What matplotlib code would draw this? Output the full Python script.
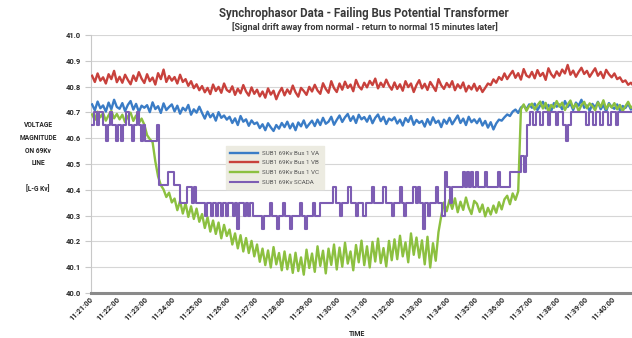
import numpy as np
import matplotlib
matplotlib.use("Agg")
import matplotlib.pyplot as plt

plt.rcParams['font.family'] = ['Roboto', 'DejaVu Sans']

# Phasor samples every 6 seconds starting at 11:21:00 (kV, line-to-ground)
sample_seconds = 6

bus_va = [
    40.731, 40.708, 40.742, 40.716, 40.727, 40.703, 40.738, 40.712, 40.749, 40.721,
    40.714, 40.736, 40.705, 40.729, 40.744, 40.711, 40.733, 40.702, 40.726, 40.718,
    40.728, 40.701, 40.739, 40.713, 40.724, 40.698, 40.735, 40.709, 40.721, 40.731,
    40.704, 40.726, 40.695, 40.718, 40.707, 40.729, 40.691, 40.712, 40.699, 40.722,
    40.698, 40.676, 40.703, 40.681, 40.694, 40.668, 40.701, 40.679, 40.688, 40.672,
    40.683, 40.659, 40.677, 40.651, 40.686, 40.664, 40.673, 40.648, 40.669, 40.655,
    40.661, 40.639, 40.654, 40.631, 40.658, 40.642, 40.628, 40.651, 40.637, 40.659,
    40.643, 40.664, 40.638, 40.657, 40.631, 40.661, 40.646, 40.669, 40.641, 40.655,
    40.668, 40.647, 40.672, 40.651, 40.679, 40.656, 40.664, 40.683, 40.652, 40.671,
    40.688, 40.663, 40.681, 40.694, 40.667, 40.685, 40.659, 40.691, 40.673, 40.682,
    40.664, 40.687, 40.658, 40.679, 40.692, 40.666, 40.683, 40.655, 40.676, 40.669,
    40.681, 40.657, 40.672, 40.649, 40.678, 40.663, 40.686, 40.652, 40.671, 40.659,
    40.667, 40.645, 40.674, 40.652, 40.681, 40.659, 40.668, 40.643, 40.672, 40.656,
    40.679, 40.654, 40.671, 40.688, 40.659, 40.676, 40.651, 40.683, 40.662, 40.673,
    40.658, 40.676, 40.649, 40.667, 40.641, 40.662, 40.634, 40.657, 40.672, 40.668,
    40.681, 40.692, 40.686, 40.703, 40.711, 40.698, 40.719, 40.727, 40.712, 40.731,
    40.718, 40.734, 40.709, 40.727, 40.741, 40.716, 40.729, 40.705, 40.736, 40.722,
    40.731, 40.712, 40.744, 40.721, 40.735, 40.709, 40.738, 40.726, 40.749, 40.718,
    40.727, 40.706, 40.733, 40.719, 40.741, 40.712, 40.729, 40.703, 40.736, 40.721,
    40.714, 40.731, 40.708, 40.725, 40.717, 40.734, 40.711, 40.723,
]

bus_vb = [
    40.842, 40.818, 40.851, 40.823, 40.836, 40.812, 40.848, 40.829, 40.861, 40.817,
    40.838, 40.815, 40.846, 40.826, 40.809, 40.843, 40.822, 40.856, 40.831, 40.814,
    40.848, 40.821, 40.835, 40.808, 40.852, 40.829, 40.866, 40.818, 40.841, 40.823,
    40.837, 40.812, 40.846, 40.818, 40.829, 40.803, 40.821, 40.794, 40.809, 40.786,
    40.802, 40.778, 40.795, 40.771, 40.808, 40.783, 40.799, 40.776, 40.812, 40.787,
    40.779, 40.801, 40.768, 40.792, 40.774, 40.806, 40.781, 40.765, 40.797, 40.772,
    40.788, 40.762, 40.781, 40.757, 40.793, 40.769, 40.784, 40.751, 40.777, 40.795,
    40.766, 40.789, 40.772, 40.804, 40.778, 40.761, 40.795, 40.783, 40.768, 40.799,
    40.781, 40.807, 40.785, 40.772, 40.813, 40.791, 40.776, 40.821, 40.794, 40.779,
    40.812, 40.788, 40.819, 40.795, 40.808, 40.782, 40.826, 40.801, 40.789, 40.815,
    40.797, 40.822, 40.806, 40.831, 40.793, 40.815, 40.799, 40.827, 40.804, 40.788,
    40.816, 40.791, 40.809, 40.784, 40.821, 40.798, 40.812, 40.779, 40.806, 40.825,
    40.793, 40.811, 40.787, 40.818, 40.801, 40.783, 40.829, 40.805, 40.791, 40.814,
    40.798, 40.821, 40.786, 40.809, 40.794, 40.816, 40.781, 40.803, 40.789, 40.811,
    40.784, 40.802, 40.779, 40.795, 40.812, 40.806, 40.828, 40.815, 40.837, 40.826,
    40.851, 40.829, 40.846, 40.861, 40.834, 40.852, 40.827, 40.868, 40.843, 40.836,
    40.857, 40.832, 40.864, 40.841, 40.853, 40.826, 40.871, 40.848, 40.835, 40.859,
    40.842, 40.866, 40.851, 40.884, 40.846, 40.862, 40.838, 40.857, 40.873, 40.849,
    40.861, 40.838, 40.855, 40.871, 40.842, 40.857, 40.833, 40.865, 40.848, 40.836,
    40.851, 40.829, 40.836, 40.818, 40.824, 40.807, 40.815, 40.802,
]

bus_vc = [
    40.692, 40.671, 40.703, 40.681, 40.697, 40.668, 40.689, 40.706, 40.677, 40.694,
    40.673, 40.691, 40.662, 40.684, 40.699, 40.667, 40.688, 40.658, 40.676, 40.652,
    40.612, 40.596, 40.585, 40.510, 40.452, 40.418, 40.401, 40.372, 40.389, 40.351,
    40.366, 40.321, 40.357, 40.308, 40.348, 40.295, 40.336, 40.287, 40.327, 40.276,
    40.306, 40.252, 40.294, 40.238, 40.281, 40.229, 40.273, 40.212, 40.264, 40.221,
    40.246, 40.188, 40.231, 40.173, 40.224, 40.161, 40.213, 40.155, 40.202, 40.142,
    40.188, 40.121, 40.172, 40.108, 40.165, 40.099, 40.178, 40.111, 40.155, 40.088,
    40.161, 40.092, 40.149, 40.078, 40.156, 40.085, 40.138, 40.071, 40.168, 40.097,
    40.153, 40.082, 40.181, 40.105, 40.164, 40.076, 40.172, 40.109, 40.188, 40.091,
    40.176, 40.102, 40.195, 40.114, 40.161, 40.088, 40.186, 40.119, 40.203, 40.108,
    40.181, 40.099, 40.198, 40.122, 40.211, 40.116, 40.174, 40.103, 40.202, 40.127,
    40.208, 40.131, 40.222, 40.142, 40.196, 40.119, 40.231, 40.148, 40.215, 40.137,
    40.204, 40.111, 40.218, 40.099, 40.193, 40.125, 40.236, 40.298, 40.351, 40.317,
    40.361, 40.326, 40.367, 40.313, 40.354, 40.322, 40.370, 40.331, 40.306, 40.357,
    40.346, 40.314, 40.343, 40.297, 40.330, 40.304, 40.339, 40.311, 40.352, 40.324,
    40.363, 40.377, 40.344, 40.386, 40.361, 40.394, 40.712, 40.731, 40.706, 40.725,
    40.734, 40.711, 40.728, 40.742, 40.715, 40.737, 40.702, 40.729, 40.718, 40.744,
    40.722, 40.738, 40.709, 40.731, 40.746, 40.717, 40.733, 40.705, 40.728, 40.741,
    40.716, 40.735, 40.724, 40.708, 40.739, 40.721, 40.747, 40.713, 40.732, 40.719,
    40.736, 40.712, 40.729, 40.705, 40.724, 40.741, 40.718, 40.727,
]

# SCADA reading: held value, listed at each change (minutes after 11:21:00)
scada_minutes = [
    0.00, 0.07, 0.18, 0.25, 0.40, 0.51, 0.58, 0.65, 0.73, 0.87, 0.95, 1.05, 1.13,
    1.24, 1.35, 1.45, 1.53, 1.64, 1.71, 1.78, 1.85, 1.93, 2.36, 2.44, 2.76, 2.98,
    3.20, 3.45, 3.64, 3.71, 3.78, 4.11, 4.18, 4.33, 4.40, 4.51, 4.58, 4.69, 4.76,
    4.87, 4.95, 5.13, 5.20, 5.27, 5.35, 5.53, 5.60, 5.67, 5.75, 5.85, 6.18, 6.25,
    6.47, 6.55, 6.73, 6.80, 6.95, 7.02, 7.20, 7.27, 7.56, 7.64, 7.75, 7.82, 8.04,
    8.11, 8.29, 8.76, 8.87, 9.02, 9.09, 9.31, 9.42, 9.60, 9.67, 9.85, 9.96, 10.18,
    10.25, 10.58, 10.69, 10.91, 10.98, 11.20, 11.27, 11.35, 11.42, 11.67, 11.78,
    11.85, 11.93, 12.04, 12.11, 12.22, 12.29, 12.51, 12.58, 12.73, 12.84, 12.91,
    13.02, 13.09, 13.49, 13.56, 13.64, 13.71, 13.78, 13.85, 13.96, 14.04, 14.29,
    14.36, 14.76, 14.84, 15.20, 15.60, 15.71, 15.78, 15.82, 15.93, 16.04, 16.15,
    16.29, 16.40, 16.58, 16.65, 16.87, 16.95, 17.13, 17.24, 17.31, 17.42, 17.96,
    18.07, 18.22, 18.33, 18.47, 18.58, 18.76, 18.87, 19.05, 19.13, 19.70,
]
scada_kv = [
    40.65, 40.70, 40.65, 40.70, 40.65, 40.59, 40.65, 40.70, 40.65, 40.59, 40.65, 40.59, 40.65,
    40.70, 40.65, 40.59, 40.65, 40.70, 40.65, 40.59, 40.65, 40.59, 40.65, 40.42, 40.47, 40.42,
    40.35, 40.41, 40.35, 40.41, 40.35, 40.30, 40.35, 40.30, 40.35, 40.30, 40.35, 40.30, 40.35,
    40.30, 40.35, 40.30, 40.35, 40.25, 40.35, 40.30, 40.35, 40.30, 40.35, 40.30, 40.25, 40.30,
    40.35, 40.30, 40.25, 40.30, 40.35, 40.30, 40.25, 40.30, 40.35, 40.30, 40.25, 40.30, 40.35,
    40.30, 40.35, 40.41, 40.35, 40.30, 40.35, 40.41, 40.35, 40.30, 40.35, 40.30, 40.35, 40.41,
    40.35, 40.41, 40.35, 40.30, 40.35, 40.41, 40.35, 40.30, 40.35, 40.41, 40.35,
    40.41, 40.35, 40.25, 40.35, 40.30, 40.35, 40.41, 40.35, 40.30, 40.47, 40.41,
    40.35, 40.41, 40.47, 40.41, 40.47, 40.41, 40.47, 40.41, 40.47, 40.41, 40.47,
    40.41, 40.47, 40.41, 40.47, 40.53, 40.47, 40.53, 40.65, 40.70, 40.65, 40.70,
    40.65, 40.70, 40.65, 40.70, 40.65, 40.70, 40.65, 40.59, 40.65, 40.70, 40.65,
    40.70, 40.65, 40.70, 40.65, 40.70, 40.65, 40.70, 40.65, 40.70, 40.70,
]

series_names = ["SUB1 69Kv Bus 1 VA", "SUB1 69Kv Bus 1 VB", "SUB1 69Kv Bus 1 VC", "SUB1 69Kv SCADA"]
series_colors = ["#3a7cc6", "#c8413c", "#8cc040", "#7d5db3"]
time_labels = ["11:%02d:00" % m for m in range(21, 41)]
y_ticks = [40.0, 40.1, 40.2, 40.3, 40.4, 40.5, 40.6, 40.7, 40.8, 40.9, 41.0]

text_color = "#262626"
bold = "bold"

fig = plt.figure(figsize=(6.32, 3.38), dpi=100)
ax = fig.add_axes([91 / 632, 1 - 293 / 338, (632 - 91) / 632, (293 - 35) / 338])

t = np.arange(len(bus_va)) * sample_seconds / 60.0
ax.plot(t, bus_va, color=series_colors[0], lw=1.7, label=series_names[0], zorder=3)
ax.plot(t, bus_vb, color=series_colors[1], lw=1.7, label=series_names[1], zorder=3)
ax.plot(t, bus_vc, color=series_colors[2], lw=1.7, label=series_names[2], zorder=4)
ax.plot(scada_minutes, scada_kv, color=series_colors[3], lw=1.5, drawstyle="steps-post",
        label=series_names[3], zorder=5)

ax.set_xlim(-0.04, 19.64)
ax.set_ylim(40.0, 41.0)
ax.set_yticks(y_ticks)
ax.set_yticklabels(["%.1f" % v for v in y_ticks], fontsize=5.4, fontweight=bold, color=text_color)
ax.set_xticks(range(len(time_labels)))
ax.set_xticklabels(time_labels, rotation=45, ha="right", va="center", rotation_mode="anchor",
                   fontsize=5.4, fontweight=bold, color=text_color)
ax.tick_params(axis="x", length=0, pad=4)
ax.tick_params(axis="y", length=4, width=0.8, color="#c8c8c8", pad=3)

ax.grid(axis="y", color="#d6d6d6", lw=0.8, zorder=0)
for side in ("top", "right"):
    ax.spines[side].set_visible(False)
ax.spines["left"].set_color("#c8c8c8")
ax.spines["left"].set_linewidth(0.8)
ax.spines["bottom"].set_color("#8a8a8a")
ax.spines["bottom"].set_linewidth(2.2)

fig.text(364 / 632, 1 - 14 / 338, "Synchrophasor Data - Failing Bus Potential Transformer",
         ha="center", va="center", fontsize=8.3, fontweight=bold, color="#3a3a3a")
fig.text(365 / 632, 1 - 27 / 338, "[Signal drift away from normal - return to normal 15 minutes later]",
         ha="center", va="center", fontsize=6.5, fontweight=bold, color="#3a3a3a")
fig.text(38 / 632, 1 - 157 / 338, "VOLTAGE\nMAGNITUDE\nON 69Kv\nLINE\n\n[L-G Kv]",
         ha="center", va="center", fontsize=4.8, fontweight=bold, color=text_color,
         linespacing=1.8)
fig.text(357 / 632, 1 - 334 / 338, "TIME", ha="center", va="center", fontsize=5.0,
         fontweight=bold, color=text_color)

leg = ax.legend(loc="upper left", bbox_to_anchor=(226 / 632, 1 - 146 / 338),
                bbox_transform=fig.transFigure, prop={"size": 4.5}, frameon=True,
                fancybox=False, handlelength=4.4, handletextpad=0.7, labelspacing=0.7,
                borderpad=0.7, borderaxespad=0)
leg.get_frame().set_facecolor("#ecebe1")
leg.get_frame().set_edgecolor("#ecebe1")
leg.get_frame().set_alpha(1)
for txt in leg.get_texts():
    txt.set_color("#555555")

fig.savefig("out.png", dpi=100)
